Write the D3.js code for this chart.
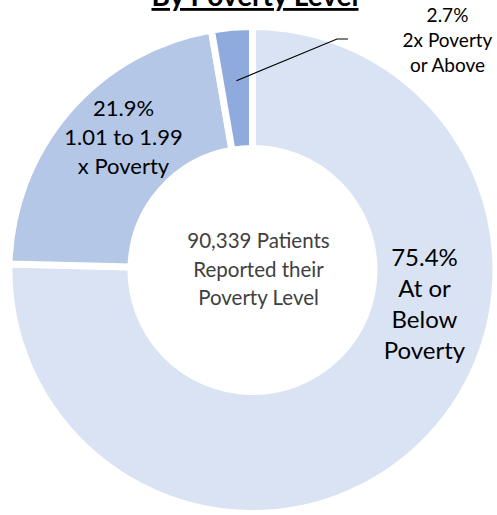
<!DOCTYPE html>
<html>
<head>
<meta charset="utf-8">
<script src="https://cdn.jsdelivr.net/npm/d3@7"></script>
<style>
  html, body { margin: 0; padding: 0; background: #ffffff; }
  svg { display: block; }
  text { font-family: Lato, "Open Sans", sans-serif; }
</style>
</head>
<body>
<div id="chart"></div>
<script>
const categories = ["At or Below Poverty", "1.01 to 1.99 x Poverty", "2x Poverty or Above"];
const values = [75.4, 21.9, 2.7];
const labelLines = [
  ["75.4%", "At or", "Below", "Poverty"],
  ["21.9%", "1.01 to 1.99", "x Poverty"],
  ["2.7%", "2x Poverty", "or Above"]
];
const colors = ["#dae3f3", "#b4c7e7", "#8faadc"];
const centerLines = ["90,339 Patients", "Reported their", "Poverty Level"];
const title = "By Poverty Level";

const W = 497, H = 515;
const cx = 252.5, cy = 270;
const outerR = 243.5, innerR = 121.5, gap = 7;

const svg = d3.select("#chart").append("svg")
  .attr("width", W).attr("height", H);

const pie = d3.pie().sort(null).value(d => d)
  .startAngle(0).endAngle(2 * Math.PI);
const arc = d3.arc().innerRadius(innerR).outerRadius(outerR);

const g = svg.append("g").attr("transform", `translate(${cx},${cy})`);
const arcs = pie(values);

g.selectAll("path.slice").data(arcs).enter().append("path")
  .attr("class", "slice")
  .attr("d", arc)
  .attr("fill", (d, i) => colors[i])
  .attr("stroke", "#ffffff")
  .attr("stroke-width", gap);

// label layout (positions relative to center, line spacing, font size, color)
const labelLayout = [
  { x: 172, y: -4, dy: 31, size: 24, color: "#000000" },
  { x: -129, y: -154, dy: 29, size: 22, color: "#000000" },
  { x: 195, y: -248, dy: 25, size: 19, color: "#000000" }
];

labelLines.forEach((lines, i) => {
  const L = labelLayout[i];
  const t = g.append("text")
    .attr("text-anchor", "middle")
    .attr("font-size", L.size)
    .attr("fill", L.color);
  lines.forEach((ln, j) => {
    t.append("tspan").attr("x", L.x).attr("y", L.y + j * L.dy).text(ln);
  });
});

// leader line for the small slice
const small = arcs[2];
const midA = (small.startAngle + small.endAngle) / 2;
const rp = 190;
const p0 = [Math.sin(midA) * rp, -Math.cos(midA) * rp];
g.append("polyline")
  .attr("points", [p0, [84.5, -231], [95.5, -231]].map(p => p.join(",")).join(" "))
  .attr("fill", "none").attr("stroke", "#000000").attr("stroke-width", 1.2);

// center text
const ct = g.append("text").attr("text-anchor", "middle")
  .attr("font-size", 20.5).attr("fill", "#404040");
centerLines.forEach((ln, j) => {
  ct.append("tspan").attr("x", 6).attr("y", -22 + j * 28.5).text(ln);
});

// title (partly cut off at top, as in the reference)
svg.append("text")
  .attr("x", 255).attr("y", 6)
  .attr("text-anchor", "middle")
  .attr("font-size", 28).attr("font-weight", "bold")
  .attr("fill", "#000000")
  .attr("text-decoration", "underline")
  .text(title);
</script>
</body>
</html>
